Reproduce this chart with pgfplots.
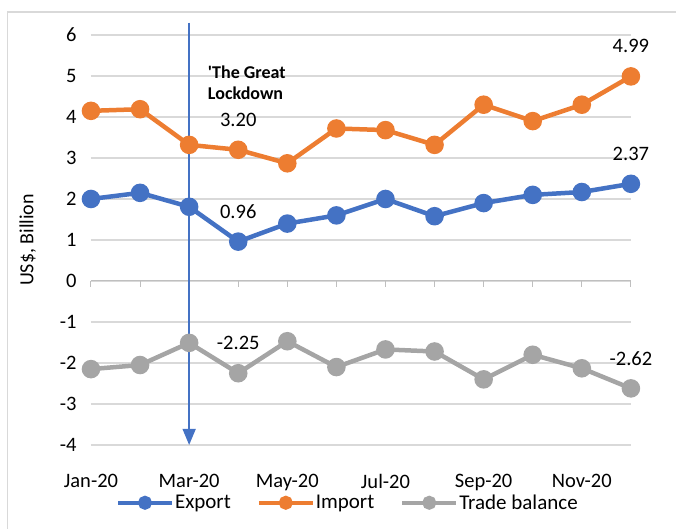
\documentclass[border=0pt]{standalone}
\usepackage{pgfplots}
\pgfplotsset{compat=1.18}
\usepackage{fontspec}
\setmainfont{Carlito}[Ligatures=TeXOff]
\usetikzlibrary{arrows.meta}
\definecolor{cexp}{HTML}{4472C4}
\definecolor{cimp}{HTML}{ED7D31}
\definecolor{ctb}{HTML}{A5A5A5}
\definecolor{cgrid}{HTML}{D9D9D9}
\definecolor{caxis}{HTML}{BFBFBF}
\begin{document}
\begin{tikzpicture}
\begin{axis}[
  scale only axis, width=540pt, height=410pt,
  xmin=0, xmax=11, ymin=-4, ymax=6,
  clip=false,
  axis x line=middle, axis y line=left,
  hide obscured x ticks=false,
  every inner x axis line/.append style={-},
  x axis line style={-, draw=caxis, line width=1pt},
  y axis line style={draw=none},
  xtick={0,...,11},
  xticklabels={Jan-20,,Mar-20,,May-20,,Jul-20,,Sep-20,,Nov-20,},
  xtick align=outside,
  major tick length=6pt,
  xtick style={draw=caxis, line width=1pt},
  ytick style={draw=none},
  ytick={-4,...,6},
  yticklabels={-4,-3,-2,-1,0,1,2,3,4,5,6},
  ymajorgrids, grid style={cgrid, line width=1.3pt},
  tick label style={font=\fontsize{20.5}{24}\selectfont, text=black},
  xticklabel style={yshift=-184pt},
  yticklabel style={xshift=-8pt},
  ylabel={US\$, Billion},
  ylabel style={font=\fontsize{20}{24}\selectfont, at={(rel axis cs:-0.117,0.5)}, anchor=center, rotate=0},
  legend columns=3,
  legend style={draw=none, fill=none, at={(rel axis cs:0.046,-0.141)}, anchor=west,
    font=\fontsize{21}{24}\selectfont, inner sep=0pt,
    /tikz/every even column/.append style={column sep=25pt},
    nodes={inner sep=1pt}},
  legend image code/.code={
    \draw[mark repeat=2,mark phase=2,#1, line width=4pt, mark size=5pt] plot coordinates {(0pt,0pt) (27pt,0pt) (54pt,0pt)};},
  every axis plot/.append style={line width=4.5pt, mark=*, mark size=7pt, mark options={solid}},
]
\addplot[cexp] coordinates {(0,2.00) (1,2.15) (2,1.81) (3,0.96) (4,1.40) (5,1.60) (6,2.00) (7,1.58) (8,1.90) (9,2.10) (10,2.17) (11,2.37)};
\addlegendentry{Export}
\addplot[cimp] coordinates {(0,4.15) (1,4.19) (2,3.32) (3,3.20) (4,2.87) (5,3.72) (6,3.68) (7,3.32) (8,4.30) (9,3.90) (10,4.30) (11,4.99)};
\addlegendentry{Import}
\addplot[ctb] coordinates {(0,-2.15) (1,-2.05) (2,-1.51) (3,-2.25) (4,-1.47) (5,-2.10) (6,-1.67) (7,-1.72) (8,-2.40) (9,-1.80) (10,-2.13) (11,-2.62)};
\addlegendentry{Trade balance}
\draw[cexp, line width=1.5pt, -{Triangle[length=16pt,width=13pt]}] (axis cs:2,6.3) -- (axis cs:2,-4);
\node[font=\fontsize{18}{21}\selectfont\bfseries, align=left, anchor=north west, inner sep=0pt] at (axis cs:2.38,5.24) {'The Great\\Lockdown};
\begin{scope}[every node/.style={font=\fontsize{20.5}{24}\selectfont, anchor=center, yshift=30pt}]
\node at (axis cs:3,3.20) {3.20};
\node at (axis cs:3,0.96) {0.96};
\node at (axis cs:3,-2.25) {-2.25};
\node at (axis cs:11,4.99) {4.99};
\node at (axis cs:11,2.37) {2.37};
\node at (axis cs:11,-2.62) {-2.62};
\end{scope}
\draw[cgrid, line width=1.5pt] (rel axis cs:-0.155,-0.204) -- (rel axis cs:-0.155,1.056) -- (rel axis cs:1.084,1.056);
\path (rel axis cs:-0.1685,-0.2049) rectangle (rel axis cs:1.0852,1.0854);
\end{axis}
\end{tikzpicture}
\end{document}
